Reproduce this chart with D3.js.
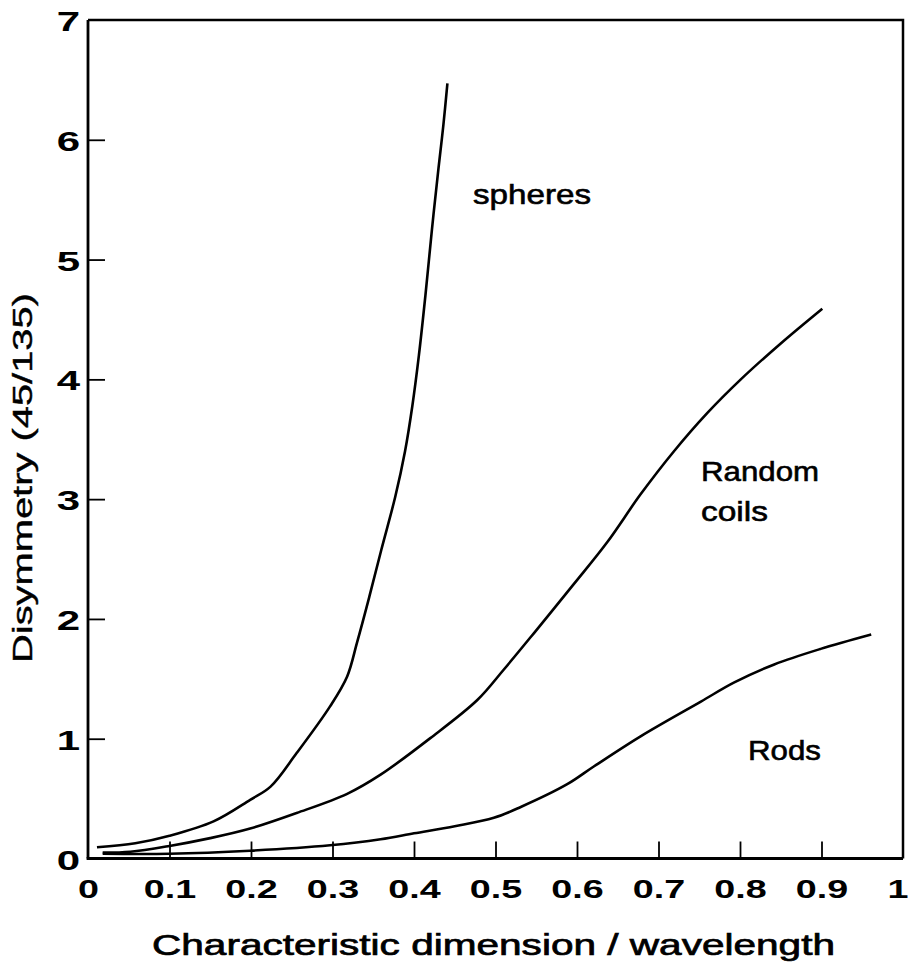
<!DOCTYPE html>
<html>
<head>
<meta charset="utf-8">
<script src="https://cdn.jsdelivr.net/npm/d3@7"></script>
<style>
  html, body { margin: 0; padding: 0; background: #fff; }
  svg { display: block; }
  text { font-family: "Liberation Sans", Arial, sans-serif; fill: #000; }
</style>
</head>
<body>
<svg id="chart" width="908" height="962"></svg>
<script>
// ---- data ----
const spheresX = [0.011, 0.058, 0.100, 0.154, 0.199, 0.224, 0.256, 0.297, 0.318, 0.330, 0.345, 0.360, 0.377, 0.389, 0.398, 0.406, 0.414, 0.422, 0.430, 0.436, 0.441];
const spheresY = [0.094, 0.127, 0.19, 0.31, 0.49, 0.60, 0.88, 1.27, 1.52, 1.80, 2.18, 2.58, 3.02, 3.40, 3.78, 4.20, 4.70, 5.25, 5.76, 6.12, 6.47];

const coilsX = [0.018, 0.052, 0.100, 0.150, 0.199, 0.256, 0.318, 0.359, 0.420, 0.478, 0.510, 0.547, 0.596, 0.637, 0.678, 0.719, 0.760, 0.801, 0.850, 0.901];
const coilsY = [0.050, 0.057, 0.105, 0.17, 0.25, 0.38, 0.54, 0.70, 1.005, 1.325, 1.576, 1.88, 2.29, 2.64, 3.04, 3.40, 3.72, 4.00, 4.30, 4.59];

const rodsX = [0.018, 0.100, 0.199, 0.297, 0.359, 0.400, 0.450, 0.498, 0.531, 0.588, 0.621, 0.678, 0.752, 0.793, 0.842, 0.899, 0.961];
const rodsY = [0.040, 0.040, 0.065, 0.11, 0.16, 0.21, 0.27, 0.34, 0.43, 0.62, 0.77, 1.02, 1.31, 1.47, 1.62, 1.75, 1.87];

const xTicks = [0, 0.1, 0.2, 0.3, 0.4, 0.5, 0.6, 0.7, 0.8, 0.9, 1];
const xTickLabels = ["0", "0.1", "0.2", "0.3", "0.4", "0.5", "0.6", "0.7", "0.8", "0.9", "1"];
const yTicks = [0, 1, 2, 3, 4, 5, 6, 7];
const yTickLabels = ["0", "1", "2", "3", "4", "5", "6", "7"];

const xTitle = "Characteristic dimension / wavelength";
const yTitle = "Disymmetry (45/135)";
const seriesNames = ["spheres", "Random", "coils", "Rods"];

// ---- layout ----
const svg = d3.select("#chart");
const x = d3.scaleLinear().domain([0, 1]).range([88, 903]);
const y = d3.scaleLinear().domain([0, 7]).range([858.5, 20]);

// frame (top and right)
svg.append("path")
  .attr("d", `M${x(0)},${y(7)}H${x(1)}V${y(0)}`)
  .attr("fill", "none").attr("stroke", "#000").attr("stroke-width", 2.5);

// x axis
const xAxis = svg.append("g")
  .attr("transform", `translate(0,${y(0)})`)
  .call(d3.axisBottom(x).tickValues(xTicks).tickSizeInner(-17).tickSizeOuter(0)
        .tickFormat((d, i) => xTickLabels[i]));
xAxis.select(".domain").attr("stroke-width", 2.8).attr("d", `M${x(0) - 1.4},0H${x(1)}`);
xAxis.selectAll(".tick line").attr("stroke-width", 1.8)
  .attr("display", (d) => (d === 0 || d === 1) ? "none" : null);
xAxis.selectAll(".tick text")
  .attr("y", null).attr("dy", null)
  .attr("transform", d => d === 1 ? "translate(5,39.5) scale(1.45,1)" : "translate(0,39.5) scale(1.45,1)")
  .style("font-size", "26px").style("font-weight", "bold")
  .attr("text-anchor", d => d === 1 ? "end" : "middle");

// y axis
const yAxis = svg.append("g")
  .attr("transform", `translate(${x(0)},0)`)
  .call(d3.axisLeft(y).tickValues(yTicks).tickSizeInner(-17).tickSizeOuter(0)
        .tickFormat((d, i) => yTickLabels[i]));
yAxis.select(".domain").attr("stroke-width", 2.8).attr("d", `M0,${y(7)}V${y(0)}`);
yAxis.selectAll(".tick line").attr("stroke-width", 1.8)
  .attr("display", (d) => (d === 0 || d === 7) ? "none" : null);
yAxis.selectAll(".tick text")
  .attr("x", 0).attr("dy", null)
  .attr("transform", "translate(-8,10.5) scale(1.5,1)")
  .style("font-size", "28px").style("font-weight", "bold")
  .attr("text-anchor", "end");
svg.selectAll(".tick text").attr("font-family", null);

// curves
const line = d3.line().x(d => x(d[0])).y(d => y(d[1])).curve(d3.curveCatmullRom.alpha(0.5));
const series = [
  d3.zip(spheresX, spheresY),
  d3.zip(coilsX, coilsY),
  d3.zip(rodsX, rodsY)
];
svg.append("g").selectAll("path").data(series).join("path")
  .attr("d", line)
  .attr("fill", "none").attr("stroke", "#000").attr("stroke-width", 2.6)
  .attr("stroke-linejoin", "round");

// series labels
const labels = [
  { t: seriesNames[0], x: 473, y: 204, w: 118, fs: 28 },
  { t: seriesNames[1], x: 701, y: 481, w: 118, fs: 28 },
  { t: seriesNames[2], x: 701, y: 521, w: 67, fs: 28 },
  { t: seriesNames[3], x: 748, y: 760, w: 73, fs: 28 }
];
svg.append("g").selectAll("text").data(labels).join("text")
  .attr("x", d => d.x).attr("y", d => d.y)
  .attr("textLength", d => d.w).attr("lengthAdjust", "spacingAndGlyphs")
  .style("font-size", d => d.fs + "px")
  .attr("stroke", "#000").attr("stroke-width", 0.6)
  .text(d => d.t);

// axis titles
svg.append("text")
  .attr("x", 152).attr("y", 955)
  .attr("textLength", 683).attr("lengthAdjust", "spacingAndGlyphs")
  .style("font-size", "29px")
  .attr("stroke", "#000").attr("stroke-width", 0.7)
  .text(xTitle);

svg.append("text")
  .attr("transform", "translate(32,663) rotate(-90)")
  .attr("x", 0).attr("y", 0)
  .attr("textLength", 370).attr("lengthAdjust", "spacingAndGlyphs")
  .style("font-size", "27px")
  .attr("stroke", "#000").attr("stroke-width", 0.4)
  .text(yTitle);
</script>
</body>
</html>
